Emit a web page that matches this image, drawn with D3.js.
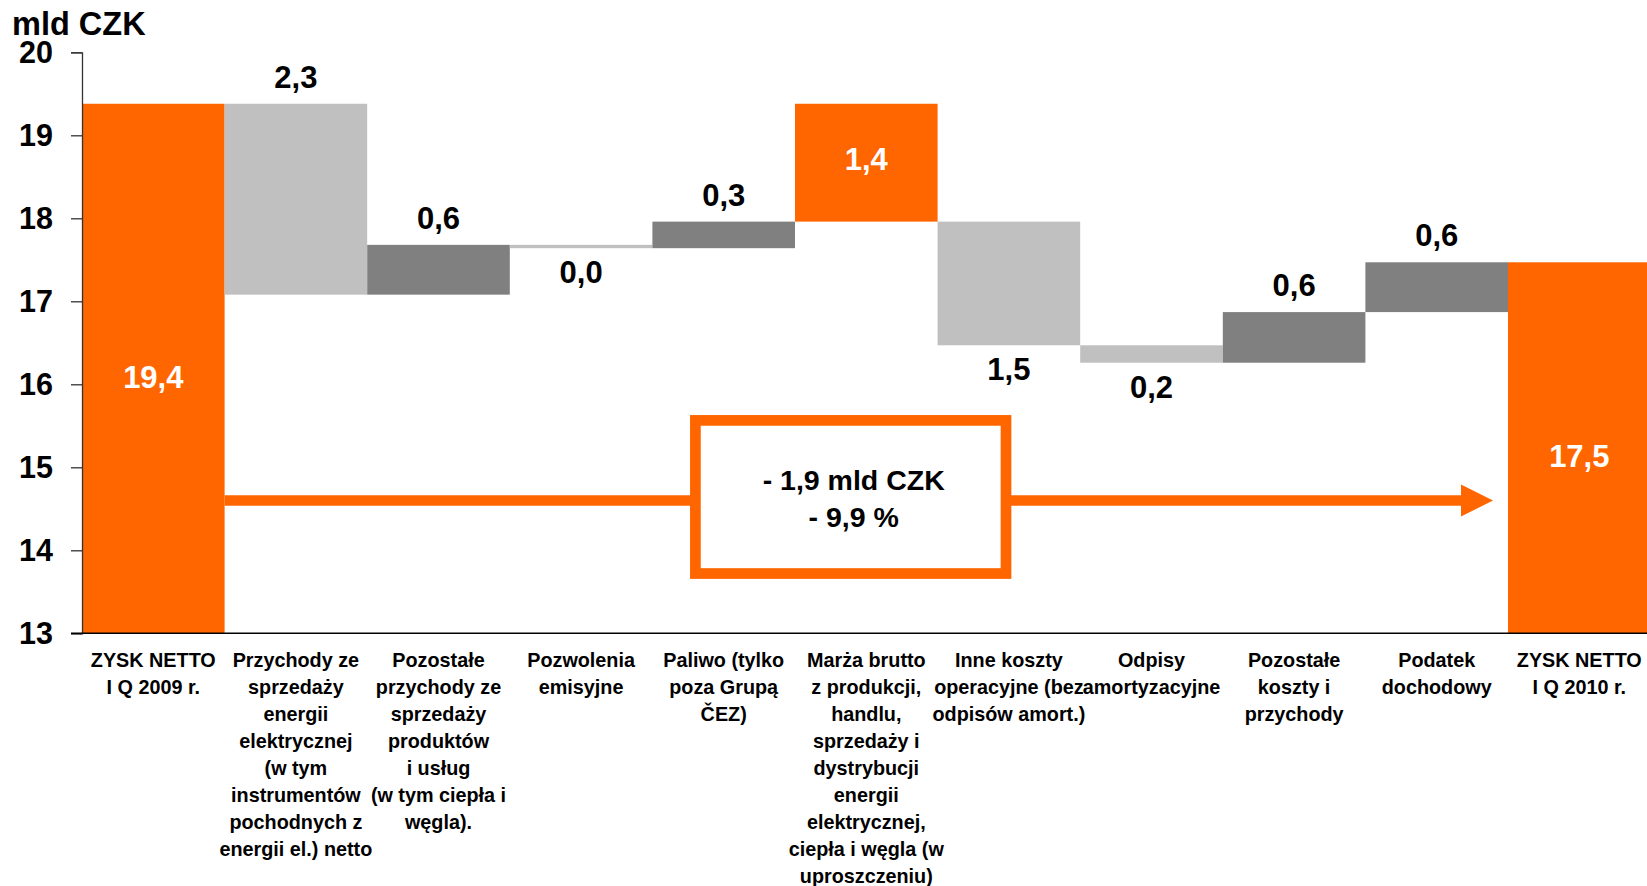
<!DOCTYPE html>
<html>
<head>
<meta charset="utf-8">
<script src="https://cdn.jsdelivr.net/npm/d3@7"></script>
<style>
  html, body { margin: 0; padding: 0; background: #fff; overflow: hidden; }
  svg { display: block; font-family: "Liberation Sans", Arial, sans-serif; font-weight: bold; }
</style>
</head>
<body>
<svg id="chart" width="1647" height="886"></svg>
<script>
// categories (each label already broken into lines as in the slide)
const categories = [
    ["ZYSK NETTO", "I Q 2009 r."],
    ["Przychody ze", "sprzedaży", "energii", "elektrycznej", "(w tym", "instrumentów", "pochodnych z", "energii el.) netto"],
    ["Pozostałe", "przychody ze", "sprzedaży", "produktów", "i usług", "(w tym ciepła i", "węgla)."],
    ["Pozwolenia", "emisyjne"],
    ["Paliwo (tylko", "poza Grupą", "ČEZ)"],
    ["Marża brutto", "z produkcji,", "handlu,", "sprzedaży i", "dystrybucji", "energii", "elektrycznej,", "ciepła i węgla (w", "uproszczeniu)"],
    ["Inne koszty", "operacyjne (bez", "odpisów amort.)"],
    ["Odpisy", "amortyzacyjne"],
    ["Pozostałe", "koszty i", "przychody"],
    ["Podatek", "dochodowy"],
    ["ZYSK NETTO", "I Q 2010 r."]
];

// values in mld CZK: totals are levels, the rest are changes
const values = [19.38, -2.30, 0.60, -0.04, 0.32, -1.42, -1.49, -0.21, 0.61, 0.60, 17.47];
const kinds  = ["total", "delta", "delta", "delta", "delta", "subtotal", "delta", "delta", "delta", "delta", "total"];

const yTicks = [13, 14, 15, 16, 17, 18, 19, 20];
const unitLabel = "mld CZK";
const changeText = ["- 1,9 mld CZK", "- 9,9 %"];

// where the value label sits for each bar
const labelSide = ["in", "above", "above", "below", "above", "in", "below", "below", "above", "above", "in"];

const orange = "#FF6600", lightGray = "#C0C0C0", darkGray = "#808080";

const svg = d3.select("#chart");

const x = d3.scaleBand()
    .domain(d3.range(categories.length))
    .range([82, 82 + 142.6 * categories.length])
    .paddingInner(0).paddingOuter(0);

const y = d3.scaleLinear().domain([13, 20]).range([633.3, 52.3]);

// build waterfall segments
let level = 0;
const bars = values.map((v, i) => {
    let lo, hi, color;
    if (kinds[i] === "total") {
        lo = 13; hi = v; level = v; color = orange;
    } else if (kinds[i] === "subtotal") {
        // shows the sum of the previous changes, level stays where it is
        lo = Math.min(level, level - v); hi = Math.max(level, level - v); color = orange;
    } else {
        const next = level + v;
        lo = Math.min(level, next); hi = Math.max(level, next);
        color = v >= 0 ? darkGray : lightGray;
        level = next;
    }
    return { i, v, lo, hi, color, kind: kinds[i] };
});

svg.append("g").selectAll("rect")
    .data(bars)
    .join("rect")
    .attr("x", d => x(d.i))
    .attr("width", x.bandwidth())
    .attr("y", d => y(d.hi))
    .attr("height", d => Math.max(y(d.lo) - y(d.hi), 0))
    .attr("fill", d => d.color);

// axes
const yAxis = svg.append("g")
    .attr("transform", "translate(82,0)")
    .call(d3.axisLeft(y).tickValues(yTicks).tickSize(11).tickPadding(18).tickFormat(d3.format("d")));
yAxis.select(".domain").attr("stroke", "#333").attr("stroke-width", 1.3);
yAxis.selectAll(".tick line").attr("stroke", "#333").attr("stroke-width", 1.3);
yAxis.selectAll(".tick text")
    .attr("font-size", 30.5).attr("font-weight", "bold")
    .attr("font-family", "'Liberation Sans', Arial, sans-serif")
    .attr("fill", "#000").attr("dy", "0.34em");

svg.append("line")
    .attr("x1", 71).attr("x2", 1647)
    .attr("y1", y(13)).attr("y2", y(13))
    .attr("stroke", "#000").attr("stroke-width", 1.5);

svg.append("text")
    .attr("x", 12).attr("y", 35)
    .attr("font-size", 32.5)
    .text(unitLabel);

// value labels
const fmt = v => d3.format(".1f")(Math.abs(v)).replace(".", ",");
svg.append("g").selectAll("text")
    .data(bars)
    .join("text")
    .attr("text-anchor", "middle")
    .attr("x", d => x(d.i) + x.bandwidth() / 2)
    .attr("y", (d, i) => {
        if (labelSide[i] === "above") return y(d.hi) - 16;
        if (labelSide[i] === "below") return y(d.lo) + 35;
        const mid = (y(d.hi) + y(d.lo)) / 2;
        return d.kind === "subtotal" ? mid + 7 : mid + 19;
    })
    .attr("font-size", 31)
    .attr("fill", (d, i) => labelSide[i] === "in" ? "#fff" : "#000")
    .text(d => fmt(d.v));

// category labels
const cat = svg.append("g").selectAll("text")
    .data(categories)
    .join("text")
    .attr("text-anchor", "middle")
    .attr("font-size", 19.8)
    .attr("x", (d, i) => x(i) + x.bandwidth() / 2)
    .attr("y", y(13) + 34);
cat.selectAll("tspan")
    .data(d => d)
    .join("tspan")
    .attr("x", function() { return d3.select(this.parentNode).attr("x"); })
    .attr("dy", (d, j) => j === 0 ? 0 : 27)
    .text(d => d);

// change annotation: arrow from first total to last total, with a box
const arrowY = y(14.6);
const arrowStart = x(0) + x.bandwidth();
const arrowTip = x(categories.length - 1) - 15;
svg.append("line")
    .attr("x1", arrowStart).attr("x2", arrowTip - 30)
    .attr("y1", arrowY).attr("y2", arrowY)
    .attr("stroke", orange).attr("stroke-width", 10.7);
svg.append("path")
    .attr("d", `M${arrowTip - 32},${arrowY - 16} L${arrowTip},${arrowY} L${arrowTip - 32},${arrowY + 16} Z`)
    .attr("fill", orange);

const boxX0 = 695.4, boxX1 = 1006;
const boxTop = y(15.565), boxBot = y(13.72);
svg.append("rect")
    .attr("x", boxX0).attr("y", boxTop)
    .attr("width", boxX1 - boxX0).attr("height", boxBot - boxTop)
    .attr("fill", "#fff")
    .attr("stroke", orange).attr("stroke-width", 10.7);

svg.append("g").selectAll("text")
    .data(changeText)
    .join("text")
    .attr("text-anchor", "middle")
    .attr("x", (boxX0 + boxX1) / 2 + 3)
    .attr("y", (d, i) => 490 + i * 37)
    .attr("font-size", 28.5)
    .text(d => d);
</script>
</body>
</html>
